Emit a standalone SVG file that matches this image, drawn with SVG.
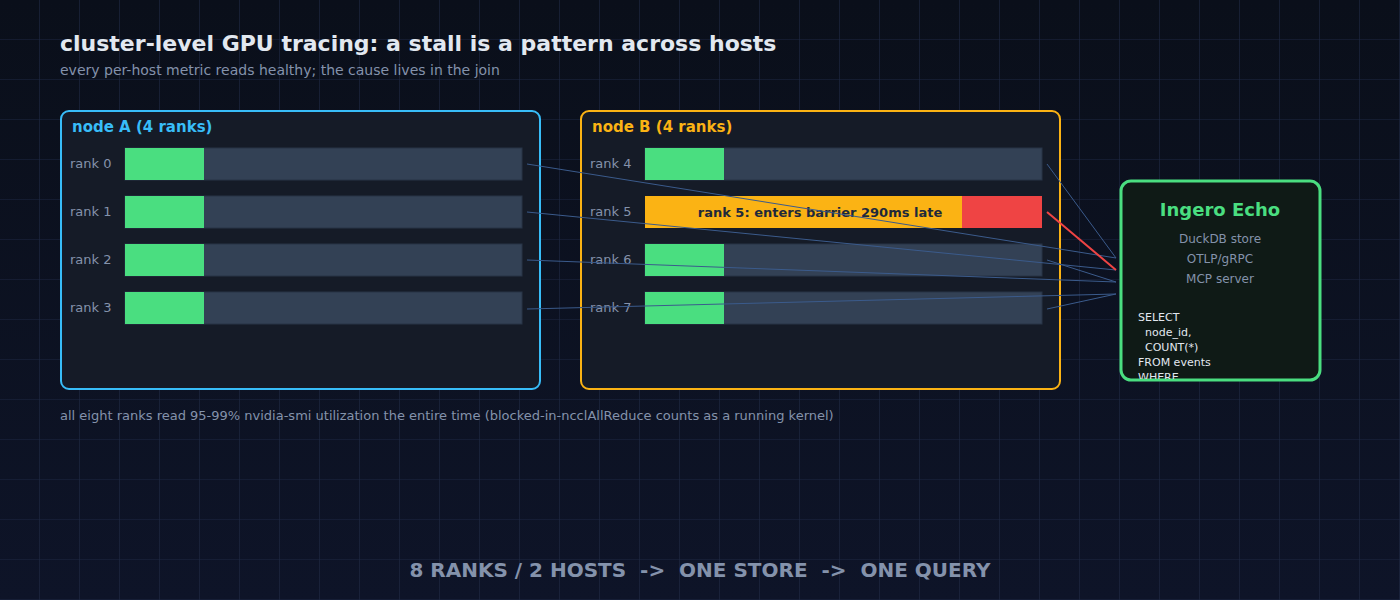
<svg xmlns="http://www.w3.org/2000/svg" width="1400" height="600" viewBox="0 0 1400 600">
<defs>
<pattern id="grid" width="40" height="40" patternUnits="userSpaceOnUse"><path d="M40 0V40H0" fill="none" stroke="#1e2843" stroke-width="1.2"/></pattern>
<linearGradient id="bg" x1="0" y1="0" x2="0" y2="1"><stop offset="0" stop-color="#0a0f1a"/><stop offset="1" stop-color="#0e1428"/></linearGradient>
<clipPath id="ec"><rect x="1122" y="182" width="197" height="197" rx="10"/></clipPath>
</defs>
<style>
text{font-family:"DejaVu Sans",sans-serif}
.lbl{font-size:13px;fill:#8492ab}
.g{fill:#4ade80}
.t{fill:#334155;stroke:#283447;stroke-width:1}
.ln{stroke:#3b5b8c;stroke-width:1;fill:none}
.sq{font-size:11px;fill:#e2e8f0}
</style>
<rect width="1400" height="600" fill="url(#bg)"/>
<rect width="1400" height="600" fill="url(#grid)"/>
<text x="60" y="51" font-size="22" font-weight="bold" fill="#e2e8f0">cluster-level GPU tracing: a stall is a pattern across hosts</text>
<text x="60" y="75" font-size="14" fill="#8492ab">every per-host metric reads healthy; the cause lives in the join</text>
<g id="nodeA">
<rect x="61" y="111" width="479" height="278" rx="8" fill="#151b27" stroke="#38bdf8" stroke-width="2"/>
<text x="72" y="132" font-size="15" font-weight="bold" fill="#38bdf8">node A (4 ranks)</text>
<text x="70" y="168" class="lbl">rank 0</text><rect x="125" y="148" width="397" height="32" class="t"/><rect x="125" y="148" width="79" height="32" class="g"/>
<text x="70" y="216" class="lbl">rank 1</text><rect x="125" y="196" width="397" height="32" class="t"/><rect x="125" y="196" width="79" height="32" class="g"/>
<text x="70" y="264" class="lbl">rank 2</text><rect x="125" y="244" width="397" height="32" class="t"/><rect x="125" y="244" width="79" height="32" class="g"/>
<text x="70" y="312" class="lbl">rank 3</text><rect x="125" y="292" width="397" height="32" class="t"/><rect x="125" y="292" width="79" height="32" class="g"/>
</g>
<g id="nodeB">
<rect x="581" y="111" width="479" height="278" rx="8" fill="#151b27" stroke="#fbb314" stroke-width="2"/>
<text x="592" y="132" font-size="15" font-weight="bold" fill="#fbb314">node B (4 ranks)</text>
<text x="590" y="168" class="lbl">rank 4</text><rect x="645" y="148" width="397" height="32" class="t"/><rect x="645" y="148" width="79" height="32" class="g"/>
<text x="590" y="216" class="lbl">rank 5</text><rect x="645" y="196" width="317" height="32" fill="#fbb314"/><rect x="962" y="196" width="80" height="32" fill="#ef4444"/>
<text x="820" y="217" font-size="13" font-weight="bold" fill="#1e293b" text-anchor="middle">rank 5: enters barrier 290ms late</text>
<text x="590" y="264" class="lbl">rank 6</text><rect x="645" y="244" width="397" height="32" class="t"/><rect x="645" y="244" width="79" height="32" class="g"/>
<text x="590" y="312" class="lbl">rank 7</text><rect x="645" y="292" width="397" height="32" class="t"/><rect x="645" y="292" width="79" height="32" class="g"/>
</g>
<g id="connectors">
<path class="ln" d="M527 164L1116 258M527 212L1116 270M527 260L1116 282M527 309L1116 294M1047 164L1116 258M1047 260L1116 282M1047 309L1116 294"/>
<path d="M1047 212L1116 270" stroke="#ef4444" stroke-width="2"/>
</g>
<g id="echo">
<rect x="1121" y="181" width="199" height="199" rx="10" fill="#0f1a16" stroke="#4ade80" stroke-width="3"/>
<text x="1220" y="216" font-size="18" font-weight="bold" fill="#4ade80" text-anchor="middle">Ingero Echo</text>
<text x="1220" y="243" font-size="12" fill="#8492ab" text-anchor="middle">DuckDB store</text>
<text x="1220" y="263" font-size="12" fill="#8492ab" text-anchor="middle">OTLP/gRPC</text>
<text x="1220" y="283" font-size="12" fill="#8492ab" text-anchor="middle">MCP server</text>
<g clip-path="url(#ec)">
<text x="1138" y="321" class="sq">SELECT</text>
<text x="1138" y="336" class="sq" xml:space="preserve">  node_id,</text>
<text x="1138" y="351" class="sq" xml:space="preserve">  COUNT(*)</text>
<text x="1138" y="366" class="sq">FROM events</text>
<text x="1138" y="381" class="sq">WHERE ...</text>
</g>
</g>
<text x="60" y="420" font-size="13" fill="#8492ab">all eight ranks read 95-99% nvidia-smi utilization the entire time (blocked-in-ncclAllReduce counts as a running kernel)</text>
<text x="700" y="577" font-size="20" font-weight="bold" fill="#8492ab" text-anchor="middle" xml:space="preserve">8 RANKS / 2 HOSTS  -&gt;  ONE STORE  -&gt;  ONE QUERY</text>
</svg>
